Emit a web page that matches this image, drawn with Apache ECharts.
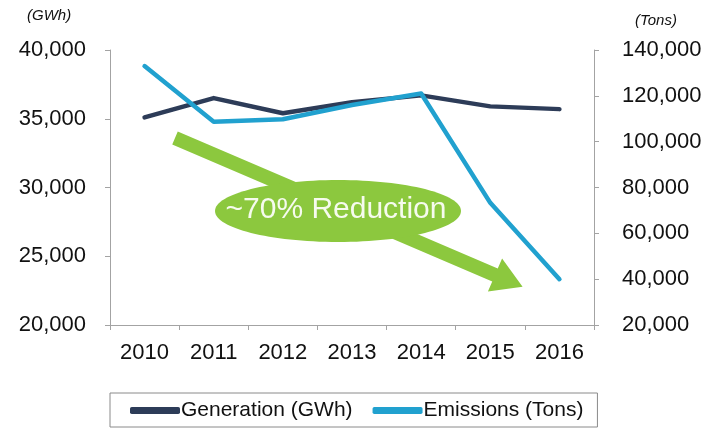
<!DOCTYPE html>
<html>
<head>
<meta charset="utf-8">
<script src="https://cdn.jsdelivr.net/npm/echarts@6/dist/echarts.min.js"></script>
<style>
  html, body { margin: 0; padding: 0; background: #ffffff; }
  #chart { width: 718px; height: 430px; }
</style>
</head>
<body>
<div id="chart"></div>
<script>
// Annual generation and emissions, 2010-2016
const years = ['2010', '2011', '2012', '2013', '2014', '2015', '2016'];
const generationGWh = [35100, 36500, 35400, 36200, 36700, 35900, 35700];
const emissionsTons = [133000, 108700, 109800, 116000, 121000, 73300, 40000];

const seriesNames = ['Generation (GWh)', 'Emissions (Tons)'];
const leftUnit = '(GWh)';
const rightUnit = '(Tons)';
const calloutText = '~70% Reduction';

const FONT = '"Liberation Sans", Arial, sans-serif';
const TEXT = '#111111';
const AXIS = '#a3a3a3';
const NAVY = '#2d3c58';
const CYAN = '#21a1cf';
const GREEN = '#8cc83e';

const fmt = v => v.toLocaleString('en-US');

const chart = echarts.init(document.getElementById('chart'), null, { renderer: 'canvas' });

const axisCommon = {
  axisLine: { show: true, lineStyle: { color: AXIS, width: 1 } },
  axisTick: { show: true, inside: false, length: 5, lineStyle: { color: AXIS } },
  splitLine: { show: false }
};

// Arrow geometry: shaft from start to base, triangular head at the base
function arrowPoints(sx, sy, bx, by, halfShaft, halfHead, headLen) {
  const dx = bx - sx, dy = by - sy;
  const len = Math.hypot(dx, dy);
  const ux = dx / len, uy = dy / len;
  const nx = -uy, ny = ux;
  return [
    [sx - nx * halfShaft, sy - ny * halfShaft],
    [bx - nx * halfShaft, by - ny * halfShaft],
    [bx - nx * halfHead, by - ny * halfHead],
    [bx + ux * headLen, by + uy * headLen],
    [bx + nx * halfHead, by + ny * halfHead],
    [bx + nx * halfShaft, by + ny * halfShaft],
    [sx + nx * halfShaft, sy + ny * halfShaft]
  ];
}

chart.setOption({
  animation: false,
  backgroundColor: '#ffffff',
  textStyle: { fontFamily: FONT },
  grid: { left: 110, right: 124, top: 50, bottom: 105, containLabel: false },
  xAxis: {
    type: 'category',
    data: years,
    boundaryGap: true,
    ...axisCommon,
    axisLabel: { color: TEXT, fontSize: 22, fontFamily: FONT, margin: 17 }
  },
  yAxis: [
    {
      type: 'value',
      position: 'left',
      min: 20000, max: 40000, interval: 5000,
      ...axisCommon,
      axisLabel: { color: TEXT, fontSize: 22, fontFamily: FONT, margin: 24, formatter: fmt }
    },
    {
      type: 'value',
      position: 'right',
      min: 20000, max: 140000, interval: 20000,
      ...axisCommon,
      axisLabel: { color: TEXT, fontSize: 22, fontFamily: FONT, margin: 28, formatter: fmt }
    }
  ],
  legend: {
    data: seriesNames,
    left: 110,
    top: 393,
    orient: 'horizontal',
    icon: 'roundRect',
    itemWidth: 50,
    itemHeight: 7,
    itemGap: 20,
    padding: [7, 14, 6, 20],
    borderColor: '#8a8a8a',
    borderWidth: 1,
    textStyle: { color: TEXT, fontSize: 21, fontFamily: FONT, padding: [0, 0, 0, -4] }
  },
  series: [
    {
      name: seriesNames[0],
      type: 'line',
      yAxisIndex: 0,
      data: generationGWh,
      showSymbol: false,
      symbol: 'none',
      lineStyle: { color: NAVY, width: 4.5, cap: 'round', join: 'round' },
      itemStyle: { color: NAVY }
    },
    {
      name: seriesNames[1],
      type: 'line',
      yAxisIndex: 1,
      data: emissionsTons,
      showSymbol: false,
      symbol: 'none',
      lineStyle: { color: CYAN, width: 4.5, cap: 'round', join: 'round' },
      itemStyle: { color: CYAN }
    }
  ],
  graphic: [
    {
      type: 'text', left: 27, top: 8,
      style: { text: leftUnit, font: 'italic 15px ' + FONT, fill: TEXT }
    },
    {
      type: 'text', left: 635, top: 13,
      style: { text: rightUnit, font: 'italic 15px ' + FONT, fill: TEXT }
    },
    {
      type: 'polygon', z: 1,
      shape: { points: arrowPoints(175, 138, 495, 275, 7, 18, 30) },
      style: { fill: GREEN }
    },
    {
      type: 'ellipse', z: 2,
      shape: { cx: 338, cy: 211, rx: 123, ry: 31 },
      style: { fill: GREEN }
    },
    {
      type: 'text', z: 3,
      x: 336, y: 210,
      style: {
        text: calloutText,
        font: '30px ' + FONT,
        fill: '#f6fbee',
        align: 'center',
        verticalAlign: 'middle'
      }
    }
  ]
});
</script>
</body>
</html>
